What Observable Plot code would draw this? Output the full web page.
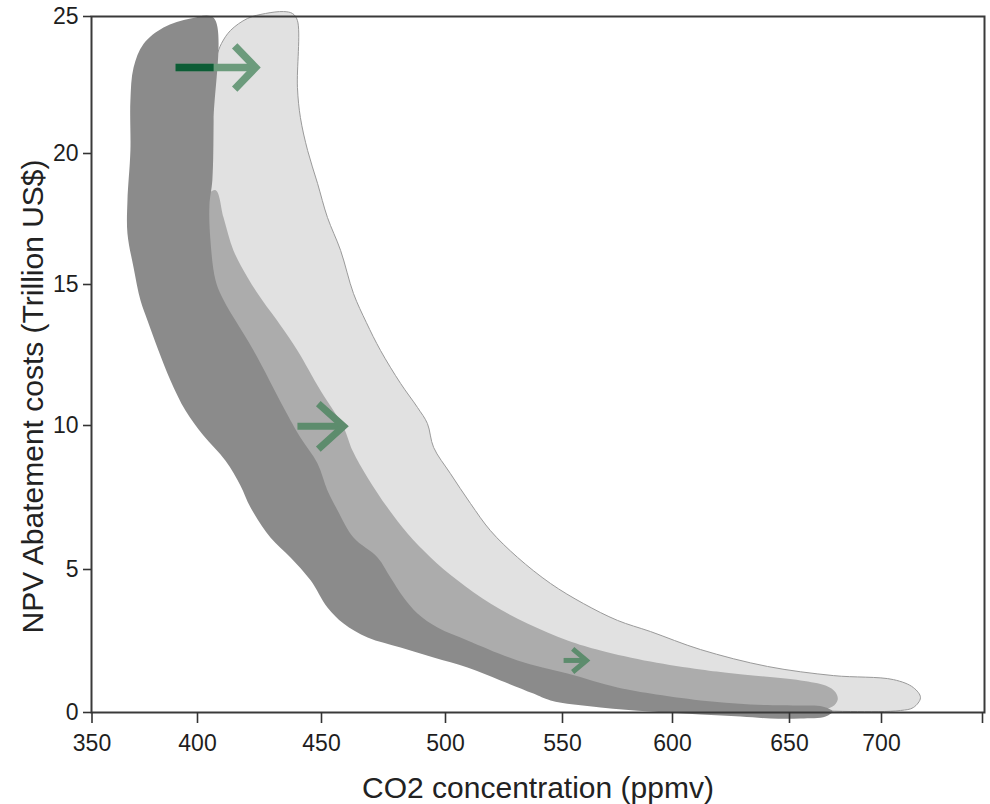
<!DOCTYPE html>
<html><head><meta charset="utf-8">
<script src="https://cdn.jsdelivr.net/npm/d3@7"></script>
<script src="https://cdn.jsdelivr.net/npm/@observablehq/plot@0.6"></script>
<style>body{margin:0;background:#fff;} #chart svg{display:block}</style>
</head><body><div id="chart"></div>
<script>
// ---- axis ticks ----
const xTicks = [350, 400, 450, 500, 550, 600, 650, 700, 750];
const yTicks = [0, 5, 10, 15, 20, 25];
const xLabel = "CO2 concentration (ppmv)";
const yLabel = "NPV Abatement costs (Trillion US$)";

// ---- dark band outline (CO2 ppmv, trillion US$) ----
const darkX = [406.5,406.5,406.0,404.8,405.2,407.3,410.5,422.6,434.7,441.5,448.4,452.4,456.5,462.9,472.6,477.8,483.1,488.7,496.8,509.4,530.8,552.3,575.0,590.0,612.0,633.3,656.0,667.9,673.4,669.6,656.0,641.9,629.1,612.0,590.0,567.3,544.9,537.6,523.5,509.4,495.2,481.9,468.6,458.9,452.4,445.6,437.5,429.4,421.4,417.3,411.3,402.4,394.3,387.2,381.5,376.3,373.0,369.7,366.8,366.8,368.2,368.2,369.7,374.4,383.9,396.7];
const darkY = [24.95,21.2,19.0,18.0,16.7,15.15,14.45,12.66,10.64,9.58,8.68,7.74,7.05,6.11,5.42,4.72,4.02,3.46,2.97,2.52,1.82,1.36,0.87,0.66,0.42,0.28,0.245,0.21,0.035,-0.14,-0.21,-0.21,-0.14,-0.07,0.035,0.175,0.42,0.66,1.12,1.57,1.92,2.27,2.62,3.11,3.67,4.62,5.42,6.11,7.15,7.92,8.78,9.65,10.53,11.6,12.66,13.72,14.43,15.65,16.95,18.2,20.1,21.93,23.14,24.0,24.6,24.93];

// ---- medium band outline ----
const mediumX = [402.4,407.3,410.5,414.5,420.2,426.2,433.5,440.3,449.6,458.9,462.5,468.6,476.6,484.7,494.0,505.1,519.2,535.0,552.3,567.3,590.0,612.0,626.1,656.0,669.6,675.1,676.2,673.4,665.2,650.5,612.0,567.3,523.5,481.9,453.6,433.5,417.3,407.3,403.2];
const mediumY = [18.2,18.6,17.56,16.3,15.27,14.43,13.55,12.66,11.24,9.93,9.13,8.19,7.15,6.25,5.42,4.62,3.81,3.11,2.52,2.17,1.78,1.50,1.36,1.12,0.94,0.70,0.45,0.21,0.07,0.035,0.14,0.42,1.29,2.52,4.27,6.70,9.48,12.66,15.92];

// ---- light band outline ----
const lightX = [404.8,407.7,409.7,413.3,420.2,427.4,434.7,438.3,440.3,440.3,441.5,444.4,448.4,452.4,457.7,462.9,468.1,473.8,481.9,488.7,492.7,495.2,502.1,510.7,519.2,530.8,544.9,559.5,575.0,590.0,612.0,640.6,673.9,705.9,715.8,719.3,715.8,709.4,683.2,646.2,603.4,558.2,515.0,481.9,457.7,437.5,412.5,403.2,403.2];
const lightY = [22.96,23.58,24.02,24.49,24.93,25.11,25.18,25.11,24.85,22.41,21.31,20.11,18.86,17.56,16.3,14.68,13.65,12.66,11.49,10.64,10.07,9.24,8.33,7.29,6.35,5.42,4.51,3.81,3.22,2.83,2.20,1.61,1.29,1.15,0.87,0.52,0.175,0.07,0.035,0.14,0.42,1.12,2.52,4.62,8.09,11.6,15.53,18.97,21.57];

// ---- arrows ----
const arrowFrom = [389.6, 440.3, 550.5];
const arrowTo = [423.4, 458.9, 560.9];
const arrowY = [23.14, 9.97, 1.82];
// dark part of first arrow's shaft (over the dark band)
const tailFrom = [389.6];
const tailTo = [406.5];
const tailY = [23.14];

// styles (not data)
const arrowStyle = [
  {w: 7.5, r: 30, angle: 46, color: "#6c9b7c"},
  {w: 7, r: 34, angle: 42, color: "#5d8c6d"},
  {w: 5, r: 18, angle: 40, color: "#5d8c6d"}
];

const zip = (X, Y) => X.map((x, i) => ({x, y: Y[i]}));
const light = zip(lightX, lightY);
const medium = zip(mediumX, mediumY);
const dark = zip(darkX, darkY);

function chevron(angleDeg) {
  const a = angleDeg * Math.PI / 180;
  return {
    draw(ctx, size) {
      const L = Math.sqrt(size / Math.PI);
      const dx = L * Math.cos(a), dy = L * Math.sin(a);
      ctx.moveTo(-dx, -dy);
      ctx.lineTo(0, 0);
      ctx.lineTo(-dx, dy);
    }
  };
}

const arrowMarks = [];
arrowY.forEach((y, i) => {
  const s = arrowStyle[i];
  const d = [{x1: arrowFrom[i], x2: arrowTo[i], y}];
  arrowMarks.push(Plot.link(d, {x1: "x1", x2: "x2", y1: "y", y2: "y", stroke: s.color, strokeWidth: s.w, strokeLinecap: "butt"}));
  arrowMarks.push(Plot.dot(d, {x: "x2", y: "y", r: s.r, symbol: chevron(s.angle), fill: "none", stroke: s.color, strokeWidth: s.w, strokeLinejoin: "miter", strokeLinecap: "butt"}));
});
const tail = tailY.map((y, i) => ({x1: tailFrom[i], x2: tailTo[i], y}));

const plot = Plot.plot({
  width: 990,
  height: 804,
  marginLeft: 91,
  marginRight: 6,
  marginTop: 16,
  marginBottom: 92,
  style: {fontFamily: "'Liberation Sans', Arial, Helvetica, sans-serif", fontSize: "23px", color: "#1e1e1e", background: "#fff"},
  x: {type: "linear", domain: xTicks, range: [91.5, 197, 321, 445, 562, 672, 789, 881, 982]},
  y: {type: "linear", domain: yTicks, range: [712, 569, 425, 284, 153, 16]},
  marks: [
    Plot.line(light, {x: "x", y: "y", curve: "catmull-rom-closed", fill: "#e1e1e1", stroke: "#9a9a9a", strokeWidth: 1}),
    Plot.line(medium, {x: "x", y: "y", curve: "catmull-rom-closed", fill: "#acacac", stroke: "none"}),
    Plot.line(dark, {x: "x", y: "y", curve: "catmull-rom-closed", fill: "#8b8b8b", stroke: "none"}),
    ...arrowMarks,
    Plot.link(tail, {x1: "x1", x2: "x2", y1: "y", y2: "y", stroke: "#0c5c35", strokeWidth: 7.5, strokeLinecap: "butt"}),
    Plot.frame({stroke: "#3a3a3a", strokeWidth: 2}),
    Plot.axisX({ticks: xTicks, tickSize: 11, tickPadding: 11, tickFormat: d => d === 750 ? "" : String(d), label: null, stroke: "#333", strokeWidth: 1.6, fontSize: 23, fill: "#1e1e1e"}),
    Plot.axisY({ticks: yTicks, tickSize: 8, tickPadding: 5, label: null, stroke: "#333", strokeWidth: 1.6, fontSize: 23, fill: "#1e1e1e"}),
    Plot.text([xLabel], {text: d => d, frameAnchor: "bottom", dy: 76, fontSize: 30, lineAnchor: "middle", textAnchor: "middle", fill: "#222"}),
    Plot.text([yLabel], {text: d => d, frameAnchor: "left", dx: -58, dy: 32, rotate: -90, fontSize: 30, lineAnchor: "middle", textAnchor: "middle", fill: "#222"})
  ]
});
document.getElementById("chart").appendChild(plot);
</script>
</body></html>
